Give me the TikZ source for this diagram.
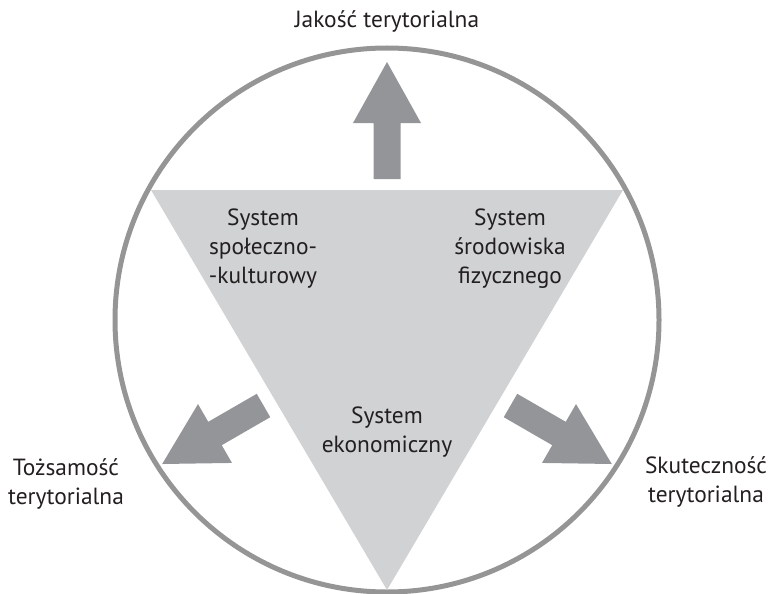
\documentclass[tikz,border=0pt]{standalone}
\usepackage{fontspec}
\setmainfont{PT Sans}
\definecolor{ringgray}{HTML}{959595}
\definecolor{arrowgray}{HTML}{939598}
\definecolor{trigray}{HTML}{D1D2D4}
\definecolor{inkc}{HTML}{231F20}
\begin{document}
\begin{tikzpicture}[x=1pt,y=-1pt,
  ring/.style={draw=ringgray,line width=5pt},
  tri/.style={fill=trigray},
  bigarrow/.style={fill=arrowgray},
  lbl/.style={text=inkc,font=\fontsize{23.4}{29}\selectfont,align=center,inner sep=0pt,anchor=base},
]
\useasboundingbox (0,0) rectangle (771,594);
\coordinate (tl) at (151,190);
\coordinate (tr) at (623,190);
\coordinate (bt) at (387,590);
\coordinate (c) at (387,320);
\fill[tri] (tl) -- (tr) -- (bt) -- cycle;
\draw[ring] (c) circle[radius=272pt];
% arrows: local shape along +x
\foreach \px/\py/\ang in {387/179/90, 263.5/405.5/210, 510.5/405.5/-30}{
  \fill[bigarrow,shift={(\px,\py)},rotate=\ang]
    (0,-13.5) -- (56,-13.5) -- (56,-34) -- (117,0) -- (56,34) -- (56,13.5) -- (0,13.5) -- cycle;
}
\node[lbl] (jak) at (387,28) {Jakość terytorialna};
\node[lbl] (toz) at (66,504) {Tożsamość\\terytorialna};
\node[lbl] (sku) at (706,502) {Skuteczność\\terytorialna};
\node[lbl] (spo) at (263,283) {System\\społeczno-\\-kulturowy};
\node[lbl] (sro) at (510,283) {System\\środowiska\\fizycznego};
\node[lbl] (eko) at (387,452) {System\\ekonomiczny};
\end{tikzpicture}
\end{document}
